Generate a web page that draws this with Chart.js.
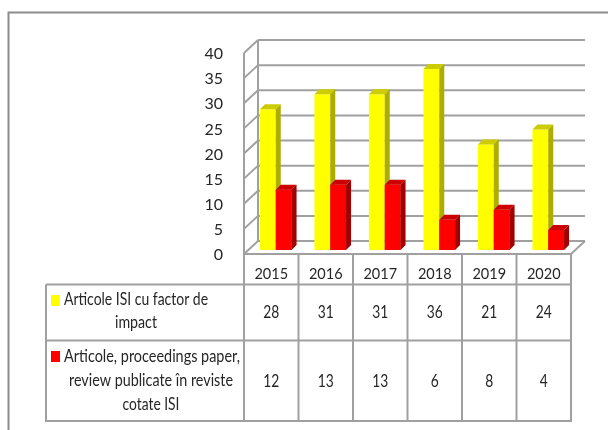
<!DOCTYPE html>
<html><head><meta charset="utf-8">
<style>html,body{margin:0;padding:0;background:#fff}canvas{display:block}</style>
<script src="https://cdn.jsdelivr.net/npm/chart.js@4"></script></head>
<body><canvas id="c" width="608" height="430"></canvas>
<script>
const categories = ["2015","2016","2017","2018","2019","2020"];
const seriesYellow = [28,31,31,36,21,24];
const seriesRed = [12,13,13,6,8,4];
const nameYellow = ["Articole ISI cu factor de","impact"];
const nameRed = ["Articole, proceedings paper,","review publicate în reviste","cotate ISI"];
const FONT = 'Lato,sans-serif';
const GRID = '#a0a0a0', TXT = '#262626';
const D = {x:14, y:-13};
const BAR = {x:4.5, y:-4, dx:5, dy:-5};
const TBL = {left:46, r1:284.5, r2:340.5, bottom:421};

function shade(ctx,pts,c){ctx.fillStyle=c;ctx.beginPath();pts.forEach((p,i)=>i?ctx.lineTo(p[0],p[1]):ctx.moveTo(p[0],p[1]));ctx.closePath();ctx.fill();}
function line(ctx,x0,y0,x1,y1){ctx.beginPath();ctx.moveTo(x0,y0);ctx.lineTo(x1,y1);ctx.stroke();}
function faces(c,ds,meta){
  meta.data.forEach(b=>{
    const l=b.x-b.width/2,r=b.x+b.width/2,t=b.y,bt=b.base;
    shade(c,[[l,t],[l+BAR.dx,t+BAR.dy],[r+BAR.dx,t+BAR.dy],[r,t]],ds.topColor);
    shade(c,[[r,t],[r+BAR.dx,t+BAR.dy],[r+BAR.dx,bt+BAR.dy],[r,bt]],ds.sideColor);
  });
}

const walls = {id:'walls',
 beforeDatasetsDraw(ch){
  const c=ch.ctx,a=ch.chartArea,y=ch.scales.y;
  c.save();c.strokeStyle=GRID;c.lineWidth=2;
  y.ticks.forEach(t=>{const p=y.getPixelForValue(t.value);
    line(c,a.left,p,a.left+D.x,p+D.y);
    line(c,a.left+D.x,p+D.y,a.right+D.x,p+D.y);});
  line(c,a.left+D.x,a.top+D.y,a.left+D.x,a.bottom+D.y);
  line(c,a.right+D.x,a.bottom+D.y,a.right,a.bottom);
  c.restore();
  c.save();c.translate(BAR.x,BAR.y);
 },
 afterDatasetsDraw(ch){
  // yellow faces first, then the red bars in front of them
  const c=ch.ctx,ds=ch.data.datasets;
  faces(c,ds[0],ch.getDatasetMeta(0));
  ch.getDatasetMeta(1).data.forEach(b=>b.draw(c));
  faces(c,ds[1],ch.getDatasetMeta(1));
  c.restore();
 },
 afterDraw(ch){
  const c=ch.ctx,a=ch.chartArea,x=ch.scales.x;
  c.save();
  c.strokeStyle='#8c8c8c';c.lineWidth=2;
  c.beginPath();c.moveTo(8.5,430);c.lineTo(8.5,12.5);c.lineTo(608,12.5);c.stroke();
  c.strokeStyle=GRID;c.lineWidth=2;
  line(c,a.left,a.top,a.left,TBL.bottom);
  line(c,a.left,a.bottom,a.right,a.bottom);
  line(c,TBL.left,TBL.r1,a.right,TBL.r1);
  line(c,TBL.left,TBL.r2,a.right,TBL.r2);
  line(c,TBL.left-1,TBL.bottom,a.right+1,TBL.bottom);
  line(c,TBL.left,TBL.r1,TBL.left,TBL.bottom);
  const step=(a.right-a.left)/categories.length;
  categories.forEach((k,i)=>{const xr=x.getPixelForValue(i)+step/2;line(c,xr,a.bottom,xr,TBL.bottom);});
  c.fillStyle=TXT;c.font='17px '+FONT;c.textAlign='center';c.textBaseline='middle';
  const put=(s,cx,y,w)=>{c.save();c.translate(cx,y);if(w){const m=c.measureText(s).width;c.scale(w/m,1);}c.fillText(s,0,0);c.restore();};
  categories.forEach((k,i)=>{const xc=x.getPixelForValue(i);
    put(String(seriesYellow[i]),xc,313,16);
    put(String(seriesRed[i]),xc,382,String(seriesRed[i]).length*8);});
  put(nameYellow[0],136,300,144);put(nameYellow[1],136,323,42);
  put(nameRed[0],152,357,176);put(nameRed[1],151,381,164);put(nameRed[2],151,405,57);
  c.fillStyle='#ffff00';c.fillRect(51,295,9,11);
  c.fillStyle='#ff0000';c.fillRect(51,351,9,11);
  c.restore();
 }};

new Chart(document.getElementById('c'),{
 type:'bar',
 data:{labels:categories,datasets:[
  {data:seriesYellow,backgroundColor:'#ffff00',topColor:'#cccc00',sideColor:'#adad00',clip:false},
  {data:seriesRed,backgroundColor:'#ff0000',topColor:'#cc0000',sideColor:'#a00000',clip:false}]},
 options:{responsive:false,animation:false,
  layout:{padding:{top:53,right:37,left:0,bottom:0}},
  plugins:{legend:{display:false},title:{display:false},tooltip:{enabled:false}},
  datasets:{bar:{barPercentage:1,categoryPercentage:0.58,borderWidth:0}},
  scales:{
   x:{grid:{display:false},border:{display:false},
      ticks:{color:TXT,font:{family:FONT,size:14.5},padding:4,maxRotation:0},
      afterFit(s){s.height=176;s.paddingLeft=0;s.paddingRight=0;}},
   y:{min:0,max:40,grid:{display:false},border:{display:false},
      ticks:{stepSize:5,color:TXT,font:{family:FONT,size:16},padding:13,labelOffset:1},
      afterFit(s){s.width=244;}}
  }},
 plugins:[walls]});
</script></body></html>
